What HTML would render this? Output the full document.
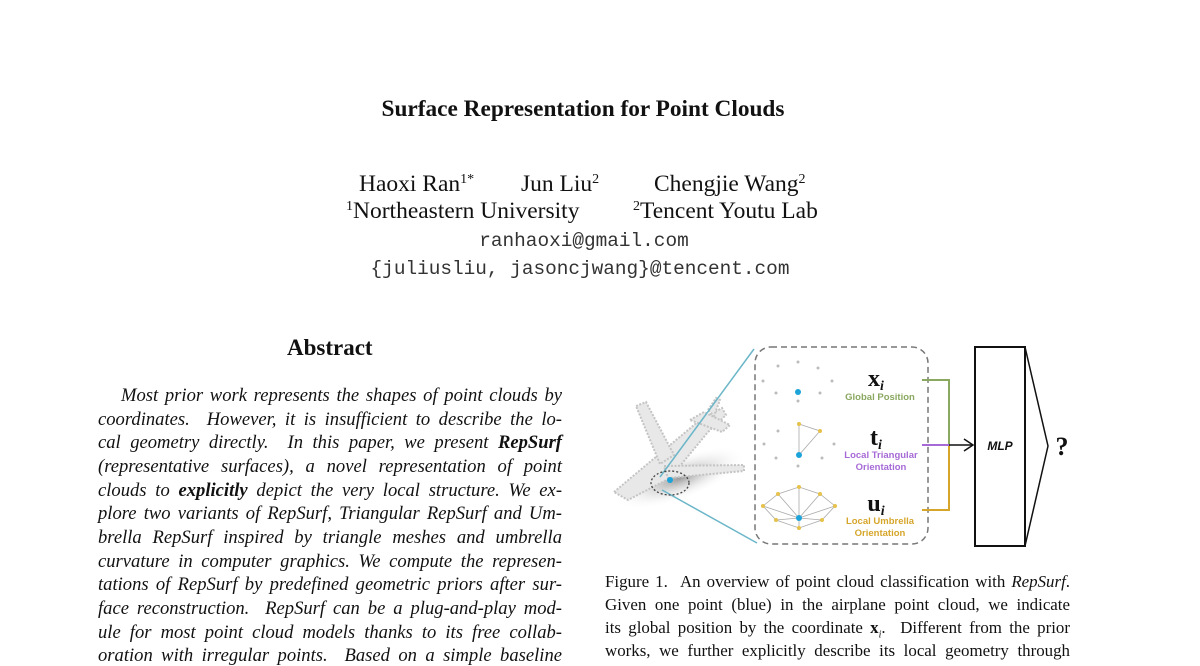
<!DOCTYPE html>
<html><head><meta charset="utf-8"><style>
body{margin:0;width:1200px;height:648px;background:#fff;position:relative;overflow:hidden;font-family:"Liberation Serif",serif;color:#111}
.a{position:absolute;white-space:nowrap}
.c{position:absolute;left:0;text-align:center;white-space:nowrap}
.l{position:absolute;left:98px;width:464px;font-style:italic;font-size:18.6px;text-align:justify;text-align-last:justify;white-space:nowrap;line-height:20px;margin-top:2px}
.f{position:absolute;left:605px;width:465px;font-size:16.9px;text-align:justify;text-align-last:justify;white-space:nowrap;line-height:20px;margin-top:1px}
sup{font-size:14px;vertical-align:8px;line-height:0}
.m{font-family:"Liberation Mono",monospace;font-size:19.4px;color:#333}
</style></head><body>
<div class="c" style="top:96px;width:1166px;font-weight:bold;font-size:23.3px">Surface Representation for Point Clouds</div>
<div class="a" style="top:171px;left:359px;font-size:23.5px">Haoxi Ran<sup>1*</sup></div>
<div class="a" style="top:171px;left:521px;font-size:23.5px">Jun Liu<sup>2</sup></div>
<div class="a" style="top:171px;left:654px;font-size:23.5px">Chengjie Wang<sup>2</sup></div>
<div class="a" style="top:198px;left:346px;font-size:23.5px"><sup>1</sup>Northeastern University</div>
<div class="a" style="top:198px;left:633px;font-size:23.5px"><sup>2</sup>Tencent Youtu Lab</div>
<div class="c m" style="top:230px;width:1168px">ranhaoxi@gmail.com</div>
<div class="c m" style="top:258px;width:1160px">{juliusliu, jasoncjwang}@tencent.com</div>
<div class="a" style="top:335px;left:287px;font-weight:bold;font-size:23px">Abstract</div>
<div class="l" style="top:384px;left:121px;width:441px">Most prior work represents the shapes of point clouds by</div>
<div class="l" style="top:408px">coordinates. &nbsp;However, it is insufficient to describe the lo-</div>
<div class="l" style="top:431px">cal geometry directly. &nbsp;In this paper, we present <b>RepSurf</b></div>
<div class="l" style="top:455px">(representative surfaces), a novel representation of point</div>
<div class="l" style="top:479px">clouds to <b>explicitly</b> depict the very local structure. We ex-</div>
<div class="l" style="top:502px">plore two variants of RepSurf, Triangular RepSurf and Um-</div>
<div class="l" style="top:526px">brella RepSurf inspired by triangle meshes and umbrella</div>
<div class="l" style="top:550px">curvature in computer graphics. We compute the represen-</div>
<div class="l" style="top:573px">tations of RepSurf by predefined geometric priors after sur-</div>
<div class="l" style="top:597px">face reconstruction. &nbsp;RepSurf can be a plug-and-play mod-</div>
<div class="l" style="top:621px">ule for most point cloud models thanks to its free collab-</div>
<div class="l" style="top:644px">oration with irregular points. &nbsp;Based on a simple baseline</div>
<div class="f" style="top:571px">Figure 1. &nbsp;An overview of point cloud classification with <i>RepSurf</i>.</div>
<div class="f" style="top:594px">Given one point (blue) in the airplane point cloud, we indicate</div>
<div class="f" style="top:617px">its global position by the coordinate <b>x</b><sub style="font-size:10px"><i>i</i></sub>. &nbsp;Different from the prior</div>
<div class="f" style="top:640px">works, we further explicitly describe its local geometry through</div>
<svg class="a" style="left:0;top:0" width="1200" height="648" viewBox="0 0 1200 648">
<defs><radialGradient id="sh"><stop offset="0" stop-color="#999"/><stop offset="1" stop-color="#fff" stop-opacity="0"/></radialGradient></defs>
<ellipse cx="680" cy="478" rx="70" ry="22" fill="url(#sh)" transform="rotate(-20 680 478)"/>
<g fill="#e8e8e8" stroke="#c4c4c4" stroke-width="2" stroke-dasharray="2 1.5">
<path d="M614 492 L700 420 L722 408 L726 415 L708 432 L670 478 L628 500 Z"/>
<path d="M636 406 L646 402 L674 455 L660 464 Z"/>
<path d="M664 466 L744 465 L744 471 L668 478 Z"/>
<path d="M690 420 L704 412 L730 425 L722 432 Z"/>
<path d="M708 410 L716 398 L720 400 L714 416 Z"/>
</g>
<line x1="660" y1="477" x2="754" y2="349" stroke="#6bb6c8" stroke-width="1.5"/>
<line x1="662" y1="490" x2="757" y2="543" stroke="#6bb6c8" stroke-width="1.5"/>
<ellipse cx="670" cy="483" rx="19" ry="12" fill="none" stroke="#444" stroke-width="1.3" stroke-dasharray="2 2"/>
<circle cx="670" cy="480" r="3" fill="#1ca3d8"/>
<rect x="755" y="347" width="173" height="197" rx="16" fill="none" stroke="#777" stroke-width="1.5" stroke-dasharray="6 4"/>
<g fill="#bbb">
<circle cx="778" cy="366" r="1.5"/><circle cx="798" cy="362" r="1.5"/><circle cx="818" cy="368" r="1.5"/><circle cx="763" cy="381" r="1.5"/><circle cx="832" cy="381" r="1.5"/><circle cx="776" cy="393" r="1.5"/><circle cx="820" cy="393" r="1.5"/><circle cx="798" cy="401" r="1.5"/>
<circle cx="778" cy="431" r="1.5"/><circle cx="764" cy="444" r="1.5"/><circle cx="834" cy="444" r="1.5"/><circle cx="776" cy="458" r="1.5"/><circle cx="822" cy="458" r="1.5"/><circle cx="798" cy="466" r="1.5"/>
</g>
<circle cx="798" cy="392" r="3" fill="#1ca3d8"/>
<g stroke="#aaa" stroke-width="0.8" fill="none"><path d="M799 424 L820 431 L799 455 Z"/>
<path d="M763 506 L778 494 L799 487 L820 494 L835 506 L822 520 L799 528 L776 520 Z M799 518 L763 506 M799 518 L778 494 M799 518 L799 487 M799 518 L820 494 M799 518 L835 506 M799 518 L822 520 M799 518 L799 528 M799 518 L776 520"/></g>
<g fill="#e6c24a"><circle cx="799" cy="424" r="2"/><circle cx="820" cy="431" r="2"/>
<circle cx="763" cy="506" r="2"/><circle cx="778" cy="494" r="2"/><circle cx="799" cy="487" r="2"/><circle cx="820" cy="494" r="2"/><circle cx="835" cy="506" r="2"/><circle cx="822" cy="520" r="2"/><circle cx="799" cy="528" r="2"/><circle cx="776" cy="520" r="2"/></g>
<circle cx="799" cy="455" r="3" fill="#1ca3d8"/><circle cx="799" cy="518" r="3" fill="#1ca3d8"/>
<g font-family="Liberation Serif" font-weight="bold" font-size="24" fill="#111" text-anchor="middle">
<text x="876" y="386">x<tspan font-size="14" font-style="italic" dy="4">i</tspan></text>
<text x="876" y="445">t<tspan font-size="14" font-style="italic" dy="4">i</tspan></text>
<text x="876" y="511">u<tspan font-size="14" font-style="italic" dy="4">i</tspan></text></g>
<g font-family="Liberation Sans" font-weight="bold" font-size="9.5" text-anchor="middle">
<text x="880" y="400" fill="#8aa860">Global Position</text>
<text x="881" y="458" fill="#a66ad6">Local Triangular</text>
<text x="881" y="470" fill="#a66ad6">Orientation</text>
<text x="880" y="524" fill="#d6a62a">Local Umbrella</text>
<text x="880" y="536" fill="#d6a62a">Orientation</text></g>
<path d="M922 380 H949 V445" stroke="#8aa860" stroke-width="2" fill="none"/>
<path d="M922 510 H949 V445" stroke="#d6a62a" stroke-width="2" fill="none"/>
<line x1="922" y1="445" x2="949" y2="445" stroke="#a66ad6" stroke-width="2"/>
<line x1="949" y1="445" x2="972" y2="445" stroke="#111" stroke-width="1.5"/>
<path d="M964 439 L973 445 L964 451" stroke="#111" stroke-width="1.5" fill="none"/>
<rect x="975" y="347" width="50" height="199" fill="#fff" stroke="#111" stroke-width="2"/>
<path d="M1025 347 L1048 446 L1025 546" stroke="#111" stroke-width="1.5" fill="none"/>
<text x="1000" y="450" font-family="Liberation Sans" font-style="italic" font-weight="bold" font-size="12" text-anchor="middle" fill="#111">MLP</text>
<text x="1062" y="455" font-family="Liberation Serif" font-weight="bold" font-size="26" text-anchor="middle" fill="#111">?</text>
</svg>
</body></html>
